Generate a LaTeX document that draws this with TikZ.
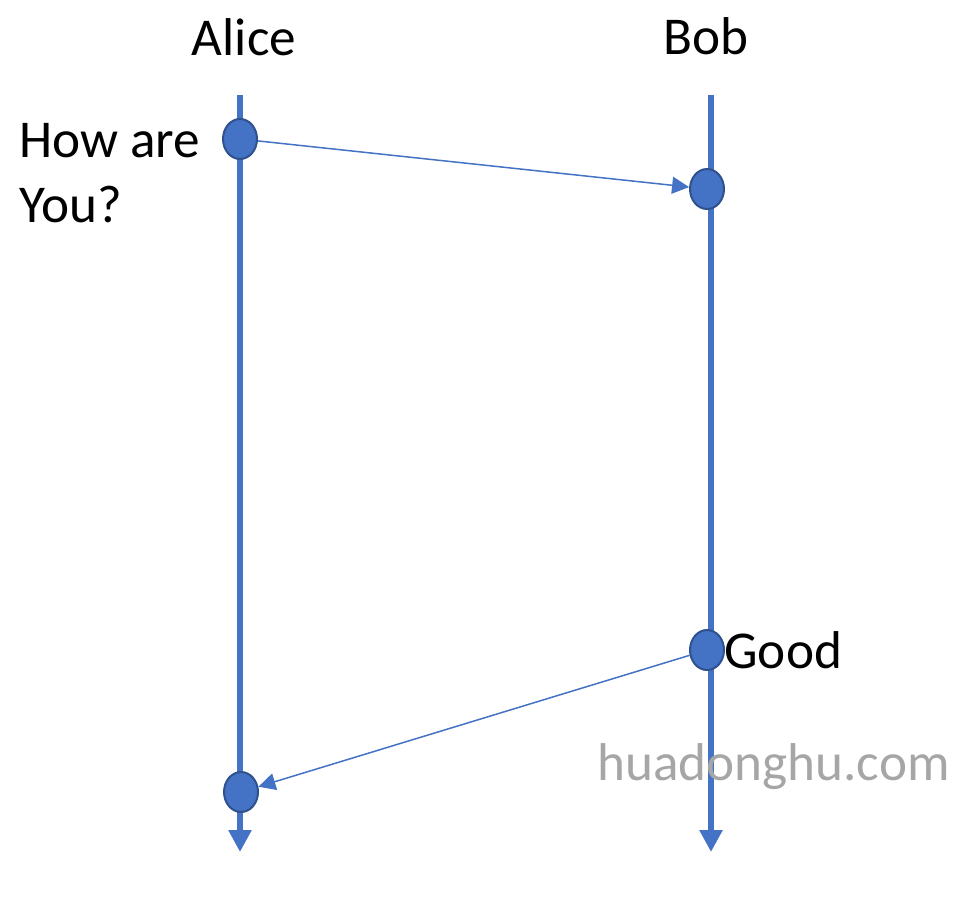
\documentclass[tikz,border=0pt]{standalone}
\usepackage{fontspec}
\setmainfont{Carlito}
\usepackage{tikz}
\usetikzlibrary{arrows.meta,shapes.geometric}
\definecolor{lifeblue}{HTML}{4472C4}
\definecolor{edgeblue}{HTML}{2F528F}
\definecolor{markgray}{HTML}{A6A6A6}

\begin{document}
\begin{tikzpicture}[x=0.5pt,y=-0.5pt,
    lifeline/.style={line width=3pt,lifeblue,-{Triangle[length=11pt,width=11pt]}},
    event/.style={ellipse,draw=edgeblue,line width=1pt,fill=lifeblue,
      minimum width=17pt,minimum height=20pt,inner sep=0pt},
    msg/.style={line width=0.75pt,lifeblue,-{Triangle[length=8.5pt,width=8.5pt]}},
    txt/.style={inner sep=0pt,font=\fontsize{26.6}{32.5}\selectfont}]
    \useasboundingbox (0,0) rectangle (972,910);
    % lifelines
    \coordinate (atop) at (240,95);
    \coordinate (abot) at (240,852);
    \coordinate (btop) at (711,95);
    \coordinate (bbot) at (711,852);
      \draw[lifeline] (atop)--(abot);
      \draw[lifeline] (btop)--(bbot);
    % names
      \node[txt,anchor=base] (alice) at (244,55) {Alice};
      \node[txt,anchor=base] (bob) at (706,54) {Bob};
    % events
      \node[event] (asend) at (240,139) {};
      \node[event] (brecv) at (707,189) {};
      \node[event] (bsend) at (707,650) {};
      \node[event] (arecv) at (241,792) {};
      \draw[msg] (asend)--(brecv);
      \draw[msg] (bsend)--(arecv);
    % labels
      \node[txt,anchor=base west,align=left] (ask) at (19,222) {How are\\You?};
      \node[txt,anchor=base west] (good) at (724,668) {Good};
      \node[txt,anchor=base west,text=markgray] (mark) at (597,780) {huadonghu.com};
\end{tikzpicture}
\end{document}
